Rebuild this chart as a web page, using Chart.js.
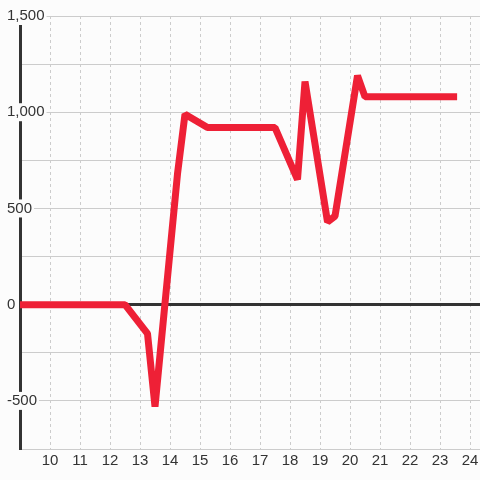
<!DOCTYPE html>
<html>
<head>
<meta charset="utf-8">
<script src="https://cdn.jsdelivr.net/npm/chart.js@4/dist/chart.umd.min.js"></script>
<style>
  html, body { margin: 0; padding: 0; background: #fcfcfc; }
  canvas { display: block; }
</style>
</head>
<body>
<canvas id="chart" width="480" height="480"></canvas>
<script>
// hour of day (x) and value (y)
const hours  = [8, 12.5, 13.25, 13.5, 14.25, 14.5, 15.25, 17.5, 18.25, 18.5, 19.25, 19.5, 20.25, 20.5, 23.57];
const values = [0, 0, -150, -530, 680, 990, 920, 920, 650, 1160, 430, 460, 1190, 1080, 1080];

// axis ticks
const xTicks = [10, 11, 12, 13, 14, 15, 16, 17, 18, 19, 20, 21, 22, 23, 24];
const yTicks = [-750, -500, -250, 0, 250, 500, 750, 1000, 1250, 1500];
const yLabelStep = 500;

const points = hours.map((h, i) => ({ x: h, y: values[i] }));

const ctx = document.getElementById('chart').getContext('2d');

new Chart(ctx, {
    type: 'line',
    data: {
        datasets: [{
            data: points,
            borderColor: '#ee2036',
            borderWidth: 7,
            borderJoinStyle: 'bevel',
            pointRadius: 0,
            tension: 0,
            fill: false
        }]
    },
    options: {
        responsive: false,
        animation: false,
        layout: {
            padding: { left: 5, top: 16, right: 0, bottom: 7 }
        },
        plugins: {
            legend: { display: false },
            tooltip: { enabled: false }
        },
        scales: {
            x: {
                type: 'linear',
                min: 9,
                max: 24.333,
                afterBuildTicks: function (scale) {
                    scale.ticks = xTicks.map(v => ({ value: v }));
                },
                afterFit: function (scale) {
                    // let the last label run to the canvas edge
                    scale.paddingLeft = 0;
                    scale.paddingRight = 0;
                },
                grid: {
                    color: '#cccccc',
                    lineWidth: 1,
                    drawTicks: false
                },
                border: {
                    display: true,
                    color: '#cccccc',
                    width: 1,
                    dash: [3, 3]
                },
                ticks: {
                    color: '#333333',
                    padding: 3,
                    maxRotation: 0,
                    font: { family: 'Liberation Sans', size: 15 }
                }
            },
            y: {
                type: 'linear',
                min: -750,
                max: 1500,
                afterBuildTicks: function (scale) {
                    scale.ticks = yTicks.map(v => ({ value: v }));
                },
                afterFit: function (scale) {
                    scale.width = 15;
                },
                grid: {
                    color: ctx => ctx.tick && ctx.tick.value === 0 ? '#333333' : '#cccccc',
                    lineWidth: ctx => ctx.tick && ctx.tick.value === 0 ? 3 : 1,
                    drawTicks: false
                },
                border: {
                    display: true,
                    color: '#333333',
                    width: 3
                },
                ticks: {
                    color: '#333333',
                    mirror: true,
                    padding: -13,
                    crossAlign: 'near',
                    showLabelBackdrop: true,
                    backdropColor: '#fcfcfc',
                    backdropPadding: { left: 0, right: 2, top: 0, bottom: 0 },
                    font: { family: 'Liberation Sans', size: 15 },
                    callback: function (value) {
                        if (value % yLabelStep !== 0) return '';
                        return value.toLocaleString('en-US');
                    }
                }
            }
        }
    }
});
</script>
</body>
</html>
